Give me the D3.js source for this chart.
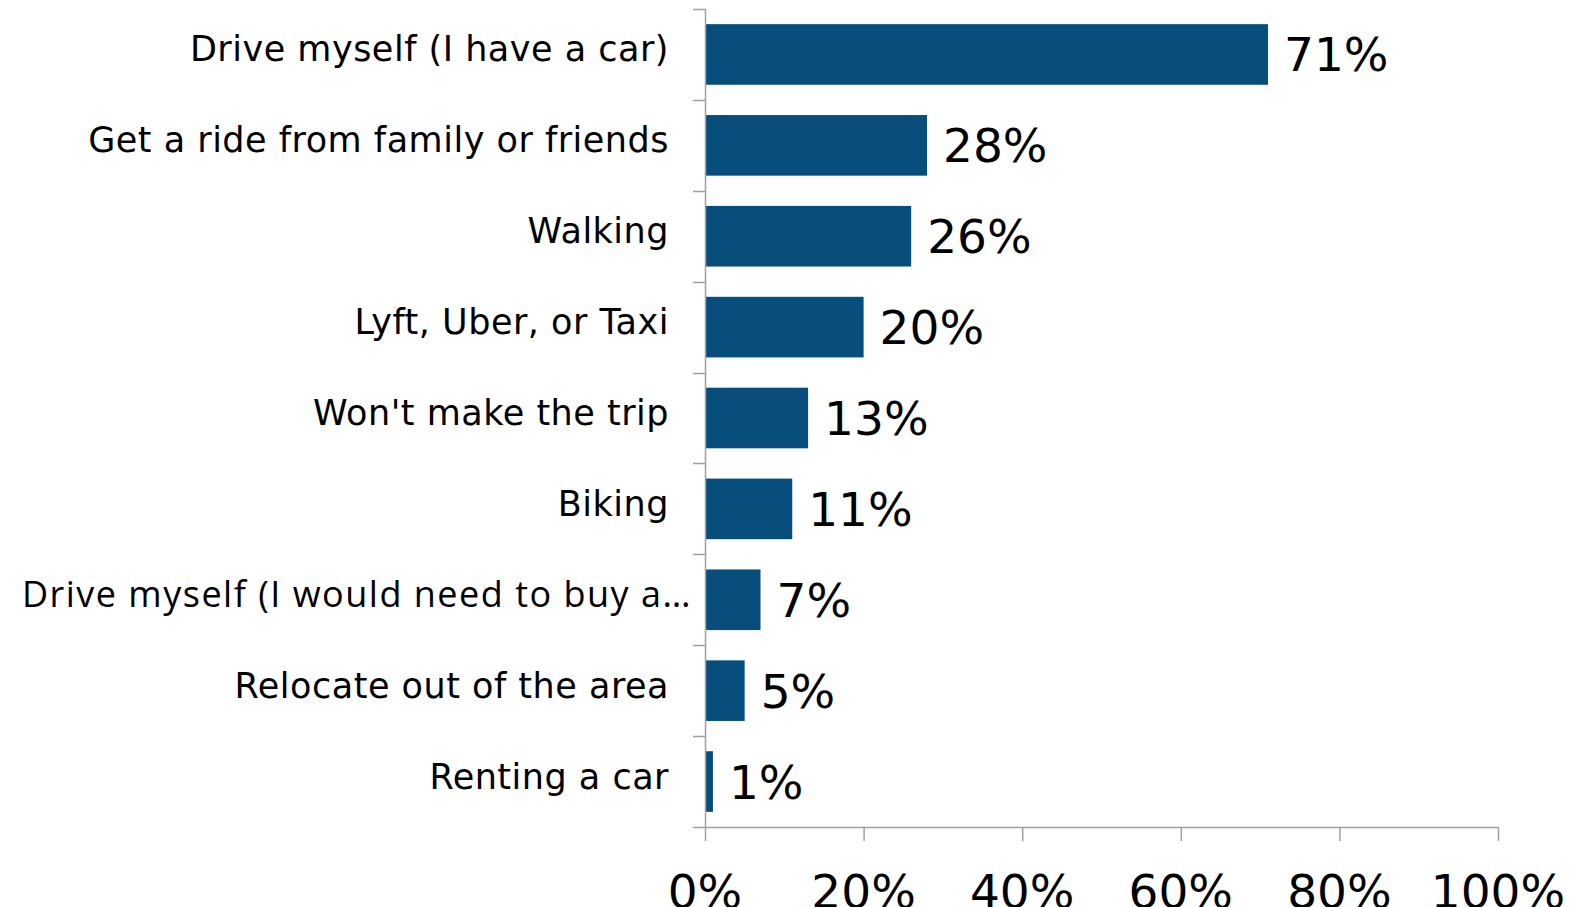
<!DOCTYPE html>
<html>
<head>
<meta charset="utf-8">
<script src="https://cdn.jsdelivr.net/npm/d3@7"></script>
<style>
  html, body { margin: 0; padding: 0; background: #fff; }
  svg { display: block; }
</style>
</head>
<body>
<svg id="chart" width="1588" height="907"></svg>
<script>
// Survey: how respondents would make the trip
const categories = [
  "Drive myself (I have a car)",
  "Get a ride from family or friends",
  "Walking",
  "Lyft, Uber, or Taxi",
  "Won't make the trip",
  "Biking",
  "Drive myself (I would need to buy a\u2026",
  "Relocate out of the area",
  "Renting a car"
];
const values = [71, 28, 26, 20, 13, 11, 7, 5, 1];
const tickValues = [0, 20, 40, 60, 80, 100];

const svg = d3.select("#chart");
const barColor = "#074e7c";
const axisColor = "#a0a0a0";
const mainFont = "'DejaVu Sans', sans-serif";
const clippedFont = "'Open Sans', sans-serif";
const isClipped = d => d.label.endsWith("\u2026");

const x = d3.scaleLinear().domain([0, 100]).range([705, 1498]);
const y = d3.scaleBand()
  .domain(categories)
  .range([9, 827])
  .paddingInner(0.333)
  .paddingOuter(0.1667);

const rows = categories.map((c, i) => ({ label: c, value: values[i] }));

// bars
svg.append("g").selectAll("rect")
  .data(rows)
  .join("rect")
  .attr("x", x(0))
  .attr("y", d => y(d.label))
  .attr("width", d => x(d.value) - x(0))
  .attr("height", y.bandwidth())
  .attr("fill", barColor);

// vertical category axis with ticks at band boundaries
const gy = svg.append("g");
gy.append("line")
  .attr("x1", x(0) + 0.5).attr("x2", x(0) + 0.5)
  .attr("y1", y.range()[0]).attr("y2", y.range()[1])
  .attr("stroke", axisColor).attr("stroke-width", 1.5);
const boundaries = categories.map(c => y(c) - y.step() * y.paddingInner() / 2);
gy.selectAll("line.tick")
  .data(boundaries)
  .join("line")
  .attr("class", "tick")
  .attr("x1", x(0) - 12).attr("x2", x(0))
  .attr("y1", d => Math.round(d) + 0.5).attr("y2", d => Math.round(d) + 0.5)
  .attr("stroke", axisColor).attr("stroke-width", 1.5);

// horizontal value axis
const gx = svg.append("g").attr("transform", `translate(0,${y.range()[1]})`);
gx.append("line")
  .attr("x1", x(0) - 12).attr("x2", x(100))
  .attr("y1", 0.5).attr("y2", 0.5)
  .attr("stroke", axisColor).attr("stroke-width", 1.5);
gx.selectAll("line.tick")
  .data(tickValues)
  .join("line")
  .attr("class", "tick")
  .attr("x1", d => x(d) + 0.5).attr("x2", d => x(d) + 0.5)
  .attr("y1", 0).attr("y2", 14)
  .attr("stroke", axisColor).attr("stroke-width", 1.5);
gx.selectAll("text")
  .data(tickValues)
  .join("text")
  .attr("x", d => x(d))
  .attr("y", 81)
  .attr("text-anchor", "middle")
  .attr("font-family", mainFont)
  .attr("font-size", 47)
  .attr("fill", "#000")
  .text(d => d + "%");

// category labels
svg.append("g").selectAll("text")
  .data(rows)
  .join("text")
  .attr("x", d => isClipped(d) ? 692 : 669)
  .attr("y", d => y(d.label) + y.bandwidth() / 2 + 7)
  .attr("text-anchor", "end")
  .attr("font-family", d => isClipped(d) ? clippedFont : mainFont)
  .attr("font-size", d => isClipped(d) ? 36 : 35)
  .attr("letter-spacing", d => isClipped(d) ? 1.5 : 0.5)
  .attr("fill", "#000")
  .text(d => d.label);

// value labels
svg.append("g").selectAll("text")
  .data(rows)
  .join("text")
  .attr("x", d => x(d.value) + 16)
  .attr("y", d => y(d.label) + y.bandwidth() / 2 + 17)
  .attr("text-anchor", "start")
  .attr("font-family", mainFont)
  .attr("font-size", 47)
  .attr("fill", "#000")
  .text(d => d.value + "%");
</script>
</body>
</html>
